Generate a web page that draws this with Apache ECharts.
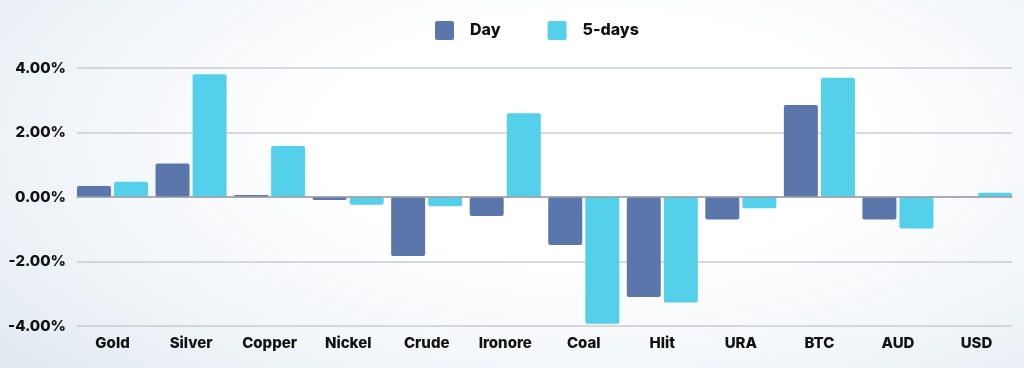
<!DOCTYPE html>
<html>
<head>
<meta charset="utf-8">
<script src="https://cdn.jsdelivr.net/npm/echarts@6/dist/echarts.min.js"></script>
<style>
html,body{margin:0;padding:0;}
body{width:1024px;height:368px;overflow:hidden;
background:radial-gradient(ellipse 75% 95% at 58% 38%, #ffffff 35%, #f1f5f9 70%, #e1e9f1 100%);}
#chart{width:1024px;height:368px;}
</style>
</head>
<body>
<div id="chart"></div>
<script>
const categories = ['Gold','Silver','Copper','Nickel','Crude','Ironore','Coal','Hlit','URA','BTC','AUD','USD'];
const dayValues = [0.34, 1.04, 0.06, -0.09, -1.83, -0.59, -1.49, -3.10, -0.70, 2.85, -0.70, 0.00];
const fiveDayValues = [0.47, 3.81, 1.58, -0.24, -0.29, 2.60, -3.93, -3.27, -0.35, 3.70, -0.98, 0.13];
const seriesNames = ['Day', '5-days'];
const yTicks = [-4, -2, 0, 2, 4];

const FONT = 'Inter, "Noto Sans", sans-serif';
const chart = echarts.init(document.getElementById('chart'), null, {renderer: 'canvas'});
chart.setOption({
  backgroundColor: 'transparent',
  animation: false,
  legend: {
    data: seriesNames,
    top: 16,
    left: 430,
    itemWidth: 19,
    itemHeight: 19,
    itemGap: 47,
    icon: 'path://M2,0 L17,0 Q19,0 19,2 L19,17 Q19,19 17,19 L2,19 Q0,19 0,17 L0,2 Q0,0 2,0 Z',
    textStyle: {fontFamily: FONT, fontWeight: 800, fontSize: 16, color: '#111', padding: [0,0,0,11]}
  },
  grid: [
    {left: 77, right: 12, top: 68, bottom: 42},
    {left: 73.25, right: 8.25, top: 68, bottom: 42}
  ],
  xAxis: [
    {gridIndex: 0, type: 'category', data: categories, show: true,
     axisLine: {show: true, onZero: true, lineStyle: {color: '#9a9fa5', width: 1.5}},
     axisTick: {show: false}, axisLabel: {show: false}, z: 5},
    {gridIndex: 1, type: 'category', data: categories, position: 'bottom',
     axisLine: {show: false, onZero: false}, axisTick: {show: false},
     axisLabel: {margin: 10, fontFamily: FONT, fontWeight: 800, fontSize: 15, color: '#111'}}
  ],
  yAxis: [
    {gridIndex: 0, type: 'value', min: yTicks[0], max: yTicks[yTicks.length-1], interval: 2,
     axisLine: {show: false}, axisTick: {show: false},
     splitLine: {lineStyle: {color: '#c9cdd2', width: 1.5}},
     axisLabel: {margin: 11, fontFamily: FONT, fontWeight: 800, fontSize: 15, color: '#111',
       formatter: v => v.toFixed(2) + '%'}},
    {gridIndex: 1, type: 'value', min: yTicks[0], max: yTicks[yTicks.length-1], interval: 2, show: false}
  ],
  series: [
    {name: seriesNames[0], type: 'bar', xAxisIndex: 1, yAxisIndex: 1, data: dayValues,
     barWidth: 34, barGap: '9%', itemStyle: {color: '#5a76ab', borderRadius: 2}},
    {name: seriesNames[1], type: 'bar', xAxisIndex: 1, yAxisIndex: 1, data: fiveDayValues,
     barWidth: 34, itemStyle: {color: '#54d0eb', borderRadius: 2}}
  ]
});
</script>
</body>
</html>
